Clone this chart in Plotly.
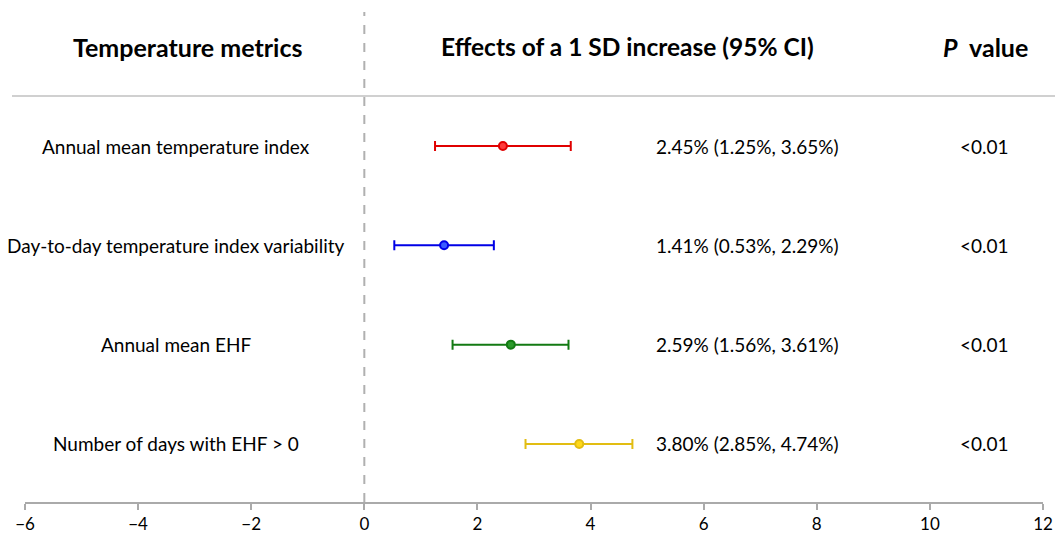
import plotly.graph_objects as go

metrics = ["Annual mean temperature index",
           "Day-to-day temperature index variability",
           "Annual mean EHF",
           "Number of days with EHF > 0"]
estimates = [2.45, 1.41, 2.59, 3.80]
lower = [1.25, 0.53, 1.56, 2.85]
upper = [3.65, 2.29, 3.61, 4.74]
p_values = ["<0.01", "<0.01", "<0.01", "<0.01"]
line_colors = ["#e00000", "#0000e6", "#137a13", "#e2bd12"]
fill_colors = ["#ff3b3b", "#3a5cff", "#2a9a2a", "#ffd81a"]
rows = [4, 3, 2, 1]
x_ticks = [-6, -4, -2, 0, 2, 4, 6, 8, 10, 12]

FONT = "Lato"
fig = go.Figure()

for i in range(len(metrics)):
    fig.add_trace(go.Scatter(
        x=[estimates[i]], y=[rows[i]], mode="markers",
        marker=dict(size=8, color=fill_colors[i], line=dict(color=line_colors[i], width=2)),
        error_x=dict(type="data", symmetric=False,
                     array=[upper[i] - estimates[i]],
                     arrayminus=[estimates[i] - lower[i]],
                     color=line_colors[i], thickness=2, width=5),
        showlegend=False, hoverinfo="skip"))

ann = []
for i in range(len(metrics)):
    ann.append(dict(x=-3.33, y=rows[i], text=metrics[i], showarrow=False,
                    xanchor="center", yanchor="middle",
                    font=dict(family=FONT, size=19, color="black")))
    ann.append(dict(x=6.77, y=rows[i],
                    text=f"{estimates[i]:.2f}% ({lower[i]:.2f}%, {upper[i]:.2f}%)",
                    showarrow=False, xanchor="center", yanchor="middle",
                    font=dict(family=FONT, size=19, color="black")))
    ann.append(dict(x=10.96, y=rows[i], text=p_values[i], showarrow=False,
                    xanchor="center", yanchor="middle",
                    font=dict(family=FONT, size=19, color="black")))

ann.append(dict(x=-3.12, y=5, text="<b>Temperature metrics</b>", showarrow=False,
                xanchor="center", yanchor="middle",
                font=dict(family=FONT, size=25, color="black")))
ann.append(dict(x=4.65, y=5, text="<b>Effects of a 1 SD increase (95% CI)</b>", showarrow=False,
                xanchor="center", yanchor="middle",
                font=dict(family=FONT, size=24.5, color="black")))
ann.append(dict(x=10.98, y=5, text="<b><i>P</i>  value</b>", showarrow=False,
                xanchor="center", yanchor="middle",
                font=dict(family=FONT, size=25, color="black")))

shapes = [
    dict(type="line", xref="x", yref="paper", x0=0, x1=0, y0=0, y1=1,
         line=dict(color="#b0b0b0", width=2, dash="dash"), layer="below"),
    dict(type="line", xref="paper", yref="paper", x0=-0.0128, x1=1.012, y0=0.8286, y1=0.8286,
         line=dict(color="#c0c0c0", width=1.5)),
]

fig.update_layout(
    width=1055, height=535,
    margin=dict(l=25, r=12, t=12, b=33, autoexpand=False),
    paper_bgcolor="white", plot_bgcolor="white",
    font=dict(family=FONT, size=18, color="black"),
    annotations=ann, shapes=shapes,
    xaxis=dict(range=[-6, 12], tickvals=x_ticks, showgrid=False, zeroline=False,
               automargin=False,
               showline=True, linecolor="#aaaaaa", linewidth=1.5,
               ticks="outside", ticklen=6, tickcolor="#aaaaaa", tickwidth=1.5,
               ticklabelstandoff=0,
               tickfont=dict(family=FONT, size=17, color="black")),
    yaxis=dict(range=[0.416, 5.349], visible=False, showgrid=False, zeroline=False,
               automargin=False),
)

fig.write_html("out.html", config={"displayModeBar": False},
               post_script="document.body.style.margin='0';document.body.style.overflow='hidden';")
